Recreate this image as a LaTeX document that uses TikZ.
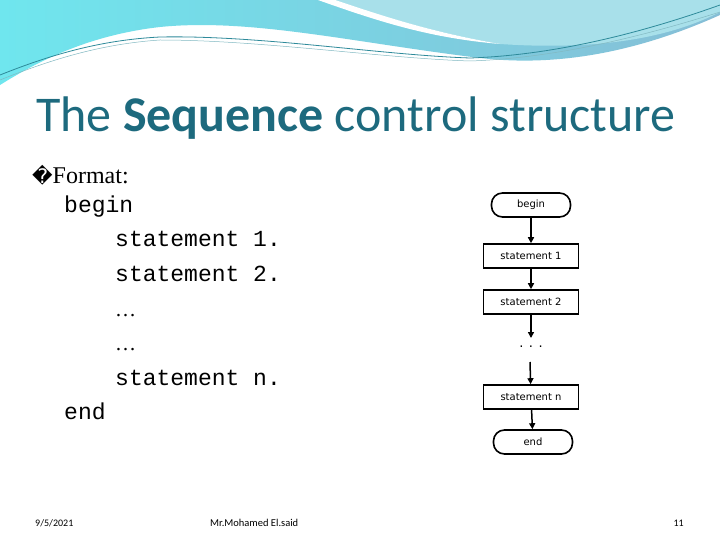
\documentclass[tikz,border=0pt]{standalone}
\usetikzlibrary{arrows.meta}
\usepackage{fontspec}
\setmainfont{Liberation Serif}
\setmonofont{Liberation Mono}
\newfontfamily\carl{Carlito}
\newfontfamily\dv{DejaVu Sans}
\newfontfamily\fsans{DejaVu Sans}
\definecolor{ttl}{HTML}{1D6A7E}
\definecolor{bluA}{HTML}{86BED6}
\definecolor{bluB}{HTML}{6FE6EE}
\definecolor{bluC}{HTML}{A8E0EA}
\definecolor{lineC}{HTML}{2E8A9A}
\begin{document}
\begin{tikzpicture}[x=1pt,y=-1pt,
  fbox/.style={draw,line width=1.6pt,minimum width=95pt,minimum height=24pt,inner sep=0pt,font=\fsans\fontsize{10}{10}\selectfont},
  fterm/.style={fbox,rounded corners=11pt,minimum width=79pt},
  farr/.style={-{Triangle[length=6pt,width=6pt]},line width=1.5pt},
  mono/.style={anchor=base west,font=\ttfamily\fontsize{23}{26}\selectfont}]
\useasboundingbox (0,0) rectangle (720,540);
\fill[white] (0,0) rectangle (720,540);
% header
\shade[left color=bluB,right color=bluA] (0,0) -- (720,0) -- (720,15) .. controls (620,60) and (540,65) .. (480,58) .. controls (350,42) and (250,18) .. (160,27) .. controls (90,35) and (40,60) .. (0,85) -- cycle;
\fill[bluC] (330,0) -- (720,0) -- (720,12) .. controls (650,48) and (560,48) .. (500,44) .. controls (430,32) and (380,15) .. (330,0);
\fill[white] (318,0) -- (335,0) .. controls (380,15) and (430,32) .. (500,44) .. controls (430,38) and (380,22) .. (318,0);
\draw[lineC,line width=0.8pt] (0,75) .. controls (50,55) and (100,40) .. (160,37) .. controls (260,35) and (380,55) .. (470,58) .. controls (560,55) and (650,30) .. (720,5);
\draw[lineC!60,line width=0.5pt] (0,80) .. controls (50,60) and (100,44) .. (160,40) .. controls (260,40) and (380,58) .. (470,61) .. controls (560,58) and (650,34) .. (720,12);
% title
\node[anchor=base west,inner sep=0pt,text=ttl,font=\carl\fontsize{50}{54}\selectfont] (title) at (36,132) {The \textbf{Sequence} control structure};
% left text
\node[anchor=base west,inner sep=0pt,font=\fontsize{24}{26}\selectfont] (fmt) at (32,184) {{\dv\fontsize{20}{20}\selectfont\char"FFFD}Format:};
\node[mono,inner sep=0pt] (l1) at (64,212) {begin};
\node[mono,inner sep=0pt] (l2) at (115,246) {statement 1.};
\node[mono,inner sep=0pt] (l3) at (115,281) {statement 2.};
\node[anchor=base west,inner sep=0pt,font=\fontsize{21}{24}\selectfont] (l4) at (115,316) {…};
\node[anchor=base west,inner sep=0pt,font=\fontsize{21}{24}\selectfont] (l5) at (115,350) {…};
\node[mono,inner sep=0pt] (l6) at (115,385) {statement n.};
\node[mono,inner sep=0pt] (l7) at (64,419) {end};
% flowchart
\node[fterm] (b) at (531,205) {begin};
\node[fbox] (s1) at (531,256) {statement 1};
\node[fbox] (s2) at (531,302) {statement 2};
\node[font=\fsans\fontsize{13}{13}\selectfont] (dots) at (531,347) {. . .};
\node[fbox] (sn) at (531,397) {statement n};
\node[fterm] (e) at (533,442) {end};
\coordinate (a1) at (531,338);
\coordinate (a2) at (530,362);
\draw[farr] (b) -- (s1);
\draw[farr] (s1) -- (s2);
\draw[farr] (s2) -- (a1);
\draw[farr] (a2) -- (sn);
\draw[farr] (sn) -- (e);
% footer
\node[anchor=base west,inner sep=0pt,font=\carl\fontsize{10}{11}\selectfont] (d) at (35,526) {9/5/2021};
\node[anchor=base west,inner sep=0pt,font=\carl\fontsize{10.5}{11}\selectfont] (m) at (210,526) {Mr.Mohamed El.said};
\node[anchor=base east,inner sep=0pt,font=\carl\fontsize{10}{11}\selectfont] (p) at (684,526) {11};
\end{tikzpicture}
\end{document}
